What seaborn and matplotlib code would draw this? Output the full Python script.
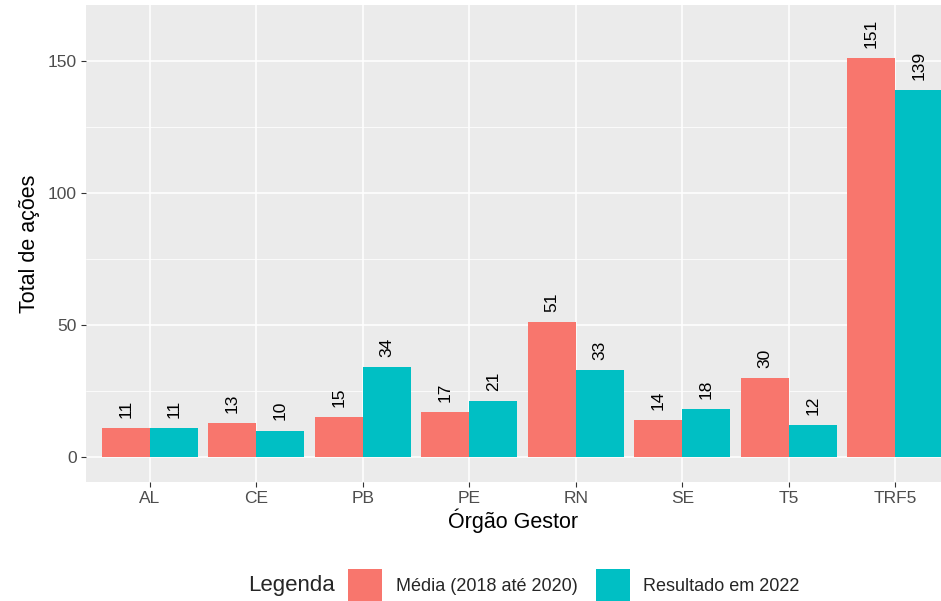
import numpy as np
import pandas as pd
import seaborn as sns
import matplotlib.pyplot as plt
from matplotlib.patches import Patch
from matplotlib.ticker import MultipleLocator

# -------- data --------
orgaos = ["AL", "CE", "PB", "PE", "RN", "SE", "T5", "TRF5"]
media_2018_2020 = [11, 13, 15, 17, 51, 14, 30, 151]
resultado_2022 = [11, 10, 34, 21, 33, 18, 12, 139]
series = ["Média (2018 até 2020)", "Resultado em 2022"]
cores = ["#F8766D", "#00BFC4"]

df = pd.DataFrame({
    "orgao": orgaos * 2,
    "valor": media_2018_2020 + resultado_2022,
    "serie": [series[0]] * len(orgaos) + [series[1]] * len(orgaos),
})

sns.set_style("darkgrid", {"axes.facecolor": "#EBEBEB", "grid.color": "white"})
plt.rcParams["font.family"] = ["Liberation Sans", "DejaVu Sans"]

fig = plt.figure(figsize=(9.41, 6.01), dpi=100)
ax = fig.add_axes([86 / 941, 119 / 601, 855 / 941, 477 / 601])

sns.barplot(data=df, x="orgao", y="valor", hue="serie", order=orgaos,
            hue_order=series, palette=cores, width=0.9, saturation=1,
            edgecolor="none", linewidth=0, legend=False, ax=ax)

# value labels above bars
for cont in ax.containers:
    for bar in cont:
        h = bar.get_height()
        ax.text(bar.get_x() + bar.get_width() / 2, h + 3.8, f"{int(h)}",
                rotation=90, ha="center", va="bottom", fontsize=12.5, color="black")

ax.set_xlim(-0.6, 7.43)
ax.set_ylim(-9.5, 171.2)
ax.yaxis.set_major_locator(MultipleLocator(50))
ax.yaxis.set_minor_locator(MultipleLocator(25))
ax.grid(which="major", color="white", linewidth=1.1)
ax.grid(which="minor", axis="y", color="white", linewidth=0.55)
ax.set_axisbelow(True)
for s in ax.spines.values():
    s.set_visible(False)

ax.tick_params(axis="both", which="major", length=3.5, width=0.8, color="#333333",
               labelsize=12.5, labelcolor="#4D4D4D", pad=3, bottom=True, left=True)
ax.tick_params(axis="y", which="minor", length=0)

ax.set_xlabel("Órgão Gestor", fontsize=15.5, color="black", labelpad=2)
ax.set_ylabel("Total de ações", fontsize=15.5, color="black", labelpad=6)

# legend at the bottom, title on the left
handles = [Patch(facecolor=c, edgecolor="none") for c in cores]
fig.text(248 / 941, 1 - 585 / 601, "Legenda", fontsize=16, ha="left", va="center")
fig.legend(handles, series, loc="center left", bbox_to_anchor=(348 / 941, 1 - 585 / 601),
           ncol=2, frameon=False, fontsize=13, handlelength=1.9, handleheight=2.3,
           handletextpad=0.75, columnspacing=1.0, borderaxespad=0, borderpad=0)

fig.savefig("out.png", dpi=100)
